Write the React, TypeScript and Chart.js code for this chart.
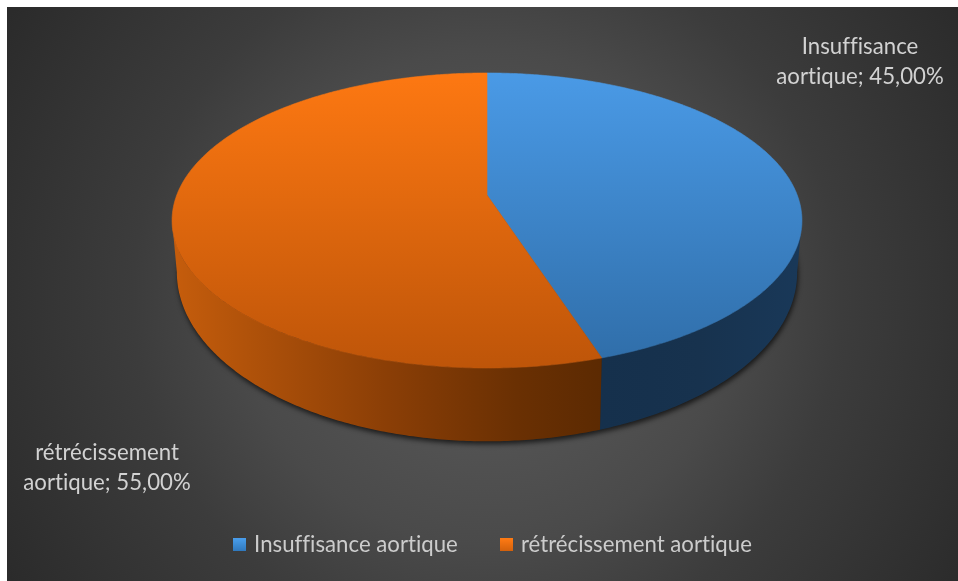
import React, { useEffect, useRef } from "react";
import { Chart, registerables } from "chart.js";

Chart.register(...registerables);

const categories = ["Insuffisance aortique", "rétrécissement aortique"];
const values = [45, 55];
const labelFirstLines = ["Insuffisance", "rétrécissement"];
const labelSecondPrefix = ["aortique", "aortique"];

const FONT = "Lato, Carlito, 'Open Sans', sans-serif";
const OX = 7;
const OY = 7;
const W = 951;
const H = 574;

// perspective projection of the unit disc
const CX = 487 - OX;
const K = 0.1729;
const TOP = { a: 310.2, y0: 195 - OY, b: 143.1 };
const BOTTOM = { a: 305.5, y0: 243 - OY, b: 164 };
const FRONT_START = Math.asin(K);
const FRONT_END = Math.PI - FRONT_START;

const faceStops = [
  [["#4a9ae6", 0], ["#2f6da8", 1]],
  [["#fd7812", 0], ["#be5509", 1]],
] as [string, number][][];
const wallStops = [
  [[0, "#15304c"], [0.5, "#17324e"], [1, "#193858"]],
  [[0, "#c45c0c"], [0.15, "#b2530a"], [0.5, "#8a3e06"], [0.8, "#6a3003"], [1, "#5c2a02"]],
] as [number, string][][];
const wallRange = [[601 - OX, 797 - OX], [178 - OX, 601 - OX]];
const legendGrad = [["#4a9eec", "#2f78bc"], ["#ff7b14", "#d2600c"]];
const labelPos = [
  { x: 860 - OX, y: 47 - OY },
  { x: 107 - OX, y: 453 - OY },
];

function proj(p: { a: number; y0: number; b: number }, t: number) {
  const X = Math.cos(t);
  const Y = Math.sin(t);
  const w = 1 - K * Y;
  return [CX + (p.a * X) / w, p.y0 + (p.b * Y) / w];
}

function rim(ctx: CanvasRenderingContext2D, p: any, s: number, e: number, first: boolean) {
  const n = Math.max(2, Math.ceil(Math.abs(e - s) / 0.01));
  for (let i = 0; i <= n; i++) {
    const [x, y] = proj(p, s + ((e - s) * i) / n);
    if (i === 0 && first) ctx.moveTo(x, y);
    else ctx.lineTo(x, y);
  }
}

const pie3d = {
  id: "pie3d",
  beforeDraw(chart: any) {
    const c: any = chart.ctx;
    // a tiny letter spacing switches off the "ti" ligature of the font
    c.letterSpacing = "0.01px";
    c.save();
    c.translate(480, 290);
    const g = c.createRadialGradient(0, 0, 0, 0, 0, 590);
    g.addColorStop(0, "#5e5e5e");
    g.addColorStop(0.42, "#4a4a4a");
    g.addColorStop(0.6, "#3c3c3c");
    g.addColorStop(1, "#282828");
    c.fillStyle = g;
    c.fillRect(-480, -290, W, H);
    c.restore();
  },
  beforeDatasetsDraw(chart: any) {
    const c: CanvasRenderingContext2D = chart.ctx;
    const arcs = chart.getDatasetMeta(0).data;
    c.save();
    // shadow below the disc
    c.save();
    c.shadowColor = "rgba(0,0,0,0.65)";
    c.shadowBlur = 5;
    c.shadowOffsetX = 1;
    c.shadowOffsetY = 3;
    c.fillStyle = "#222";
    c.beginPath();
    rim(c, BOTTOM, 0, Math.PI * 2, true);
    c.closePath();
    c.fill();
    c.restore();
    // walls: only the front of the cylinder, closed by straight edges at its ends
    arcs.forEach((arc: any, i: number) => {
      const s = Math.max(arc.startAngle, FRONT_START);
      const e = Math.min(arc.endAngle, FRONT_END);
      if (e <= s) return;
      const g = c.createLinearGradient(wallRange[i][0], 0, wallRange[i][1], 0);
      wallStops[i].forEach(([o, col]) => g.addColorStop(o, col));
      c.fillStyle = g;
      c.beginPath();
      rim(c, TOP, s, e, true);
      rim(c, BOTTOM, e, s, false);
      c.closePath();
      c.fill();
    });
    // faces
    const [, top] = proj(TOP, -Math.PI / 2);
    const [, bot] = proj(TOP, Math.PI / 2);
    arcs.forEach((arc: any, i: number) => {
      const { startAngle: s, endAngle: e } = arc;
      const g = c.createLinearGradient(0, top, 0, bot);
      faceStops[i].forEach(([col, o]) => g.addColorStop(o, col));
      c.fillStyle = g;
      c.strokeStyle = g;
      c.lineWidth = 0.6;
      c.beginPath();
      c.moveTo(CX, TOP.y0);
      rim(c, TOP, s, e, false);
      c.closePath();
      c.fill();
      c.stroke();
    });
    // data labels
    c.font = `22.2px ${FONT}`;
    c.fillStyle = "#d2d2d2";
    c.textAlign = "center";
    c.textBaseline = "middle";
    values.forEach((v, i) => {
      const pct = `${v.toFixed(2).replace(".", ",")}%`;
      c.fillText(labelFirstLines[i], labelPos[i].x, labelPos[i].y);
      c.fillText(`${labelSecondPrefix[i]}; ${pct}`, labelPos[i].x, labelPos[i].y + 30);
    });
    c.restore();
    return false;
  },
};

function legendSwatch(i: number) {
  const cv = document.createElement("canvas");
  cv.width = 13;
  cv.height = 13;
  const x = cv.getContext("2d")!;
  const g = x.createLinearGradient(0, 0, 0, 13);
  g.addColorStop(0, legendGrad[i][0]);
  g.addColorStop(1, legendGrad[i][1]);
  x.fillStyle = g;
  x.fillRect(0, 0, 13, 13);
  return cv;
}

export default function App() {
  const ref = useRef<HTMLCanvasElement>(null);
  useEffect(() => {
    const chart = new Chart(ref.current!, {
      type: "pie",
      data: {
        labels: categories,
        datasets: [{ data: values, backgroundColor: ["#3f87d2", "#e8690f"], borderWidth: 0 }],
      },
      plugins: [pie3d as any],
      options: {
        responsive: false,
        animation: false,
        layout: { padding: { bottom: 15, left: 23 } },
        plugins: {
          tooltip: { enabled: false },
          legend: {
            position: "bottom",
            labels: {
              usePointStyle: true,
              pointStyleWidth: 6,
              padding: 46,
              color: "#cccccc",
              font: { family: FONT, size: 22.2 },
              generateLabels: () =>
                categories.map((text, i) => ({
                  text,
                  fontColor: "#cccccc",
                  pointStyle: legendSwatch(i),
                  hidden: false,
                  index: i,
                  datasetIndex: 0,
                  lineWidth: 0,
                })),
            },
          },
        },
      },
    });
    return () => chart.destroy();
  }, []);
  return (
    <canvas
      ref={ref}
      width={W}
      height={H}
      style={{ position: "absolute", left: OX, top: OY, width: W, height: H, display: "block" }}
    />
  );
}
